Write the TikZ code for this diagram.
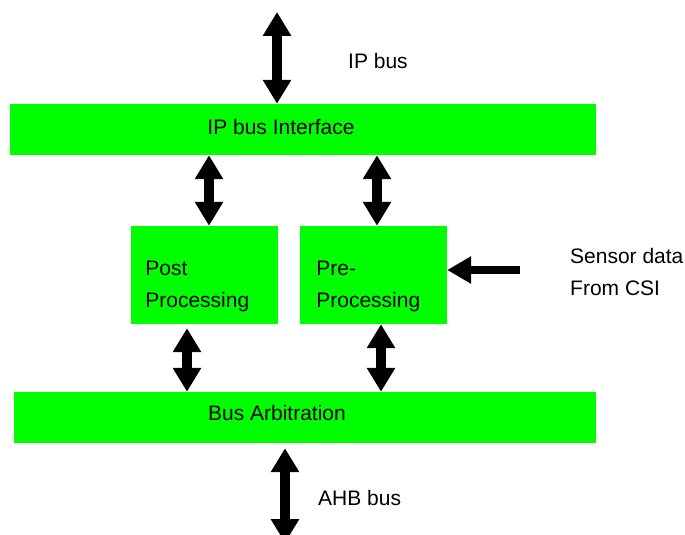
\documentclass[tikz,border=0pt]{standalone}
\usepackage{fontspec}
\setmainfont{Liberation Sans}
\usetikzlibrary{arrows.meta}
\definecolor{blockgreen}{RGB}{0,255,0}
\tikzset{
	bar/.style={rectangle, fill=blockgreen, inner sep=0pt},
	busarrow/.style={line width=10.5pt, {Triangle[width=27pt,length=24pt]}-{Triangle[width=27pt,length=24pt]}},
	inarrow/.style={line width=8pt, -{Triangle[width=26pt,length=24pt]}},
	txt/.style={inner sep=0pt, anchor=base west, align=left},
}
\begin{document}
\begin{tikzpicture}[x=1pt, y=-1pt, font=\fontsize{21}{32}\selectfont]
	\useasboundingbox (0,0) rectangle (685,535);

	\node[bar, minimum width=586pt, minimum height=51pt, label={[xshift=-22pt, yshift=2.5pt]center:IP bus Interface}]   (ipif) at (303,129.5) {};
	\node[bar, minimum width=147pt, minimum height=98pt, label={[anchor=west, align=left, xshift=11pt, yshift=-11pt]west:Post\\Processing}] (post) at (204.5,275) {};
	\node[bar, minimum width=147pt, minimum height=98pt, label={[anchor=west, align=left, xshift=13pt, yshift=-11pt]west:Pre-\\Processing}]  (pre)  at (373.5,275) {};
	\node[bar, minimum width=582pt, minimum height=51pt, label={[xshift=-28pt, yshift=5pt]center:Bus Arbitration}]    (arb)  at (305,417.5) {};

	\node[txt] (ipbus)  at (348,68)  {IP bus};
	\node[txt] (ahbbus) at (318,505) {AHB bus};
	\node[txt] (sensor) at (570,295) {Sensor data\\From CSI};

	\coordinate (iptop)  at (277,12);
	\coordinate (ahbbot) at (285,543);
	\coordinate (csi)    at (520,270);

	\draw [busarrow]                 (iptop)               -- (ipif.north -| iptop);
	\draw [busarrow]                 (ipif.south -| 209,0) -- (post.north -| 209,0);
	\draw [busarrow]                 (ipif.south -| 377,0) -- (pre.north -| 377,0);
	\draw [busarrow, shorten <=4pt]  (post.south -| 187,0) -- (arb.north -| 187,0);
	\draw [busarrow]                 (pre.south -| 381,0)  -- (arb.north -| 381,0);
	\draw [busarrow, shorten <=5pt]  (arb.south -| ahbbot) -- (ahbbot);
	\draw [inarrow]                  (csi)                 -- (pre.east |- csi);
\end{tikzpicture}
\end{document}
